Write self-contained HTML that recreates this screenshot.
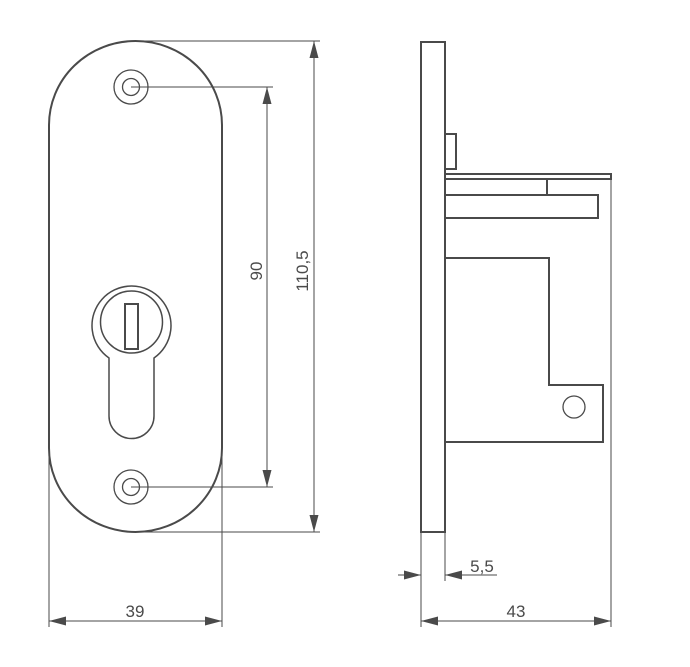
<!DOCTYPE html>
<html><head><meta charset="utf-8"><style>html,body{margin:0;padding:0;background:#fff}svg{display:block}</style></head>
<body>
<svg width="690" height="667" viewBox="0 0 690 667" xmlns="http://www.w3.org/2000/svg">
<defs>
<marker id="a" viewBox="0 0 17 9" refX="17" refY="4.5" markerWidth="17" markerHeight="9" orient="auto-start-reverse" markerUnits="userSpaceOnUse"><path d="M0,0 L17,4.5 L0,9 Z" fill="#4a4a4a"/></marker>
</defs>
<g fill="none" stroke="#4a4a4a" stroke-width="2">
<path d="M49,125 A86.5,84 0 0 1 222,125 L222,448 A86.5,84 0 0 1 49,448 Z"/>
<circle cx="131" cy="87" r="17" stroke-width="1.3"/><circle cx="131" cy="87" r="8.5" stroke-width="1.3"/>
<circle cx="131" cy="487" r="17" stroke-width="1.3"/><circle cx="131" cy="487" r="8.5" stroke-width="1.3"/>
<path d="M109,358 A39.5,39.5 0 1 1 154,358 L154,416 A22.5,22.5 0 0 1 109,416 Z" stroke-width="1.5"/>
<circle cx="131.5" cy="322" r="31" stroke-width="1.5"/>
<rect x="125" y="304" width="13" height="45"/>
<rect x="421" y="42" width="24" height="490"/>
<rect x="445" y="134" width="11" height="35"/>
<rect x="445" y="174" width="166" height="5"/>
<line x1="547" y1="179" x2="547" y2="195"/>
<rect x="445" y="195" width="153" height="23"/>
<path d="M445,258 L549,258 L549,385 L603,385 L603,442 L445,442"/>
<circle cx="574" cy="407" r="11" stroke-width="1.3"/>
</g>
<g fill="none" stroke="#4a4a4a" stroke-width="1">
<line x1="131" y1="87" x2="273" y2="87"/><line x1="131" y1="487" x2="273" y2="487"/>
<line x1="267" y1="87" x2="267" y2="487" marker-start="url(#a)" marker-end="url(#a)"/>
<line x1="135" y1="41" x2="320" y2="41"/><line x1="135" y1="532" x2="320" y2="532"/>
<line x1="314" y1="41" x2="314" y2="532" marker-start="url(#a)" marker-end="url(#a)"/>
<line x1="49" y1="448" x2="49" y2="627"/><line x1="222" y1="448" x2="222" y2="627"/>
<line x1="49" y1="621" x2="222" y2="621" marker-start="url(#a)" marker-end="url(#a)"/>
<line x1="421" y1="532" x2="421" y2="627"/><line x1="445" y1="532" x2="445" y2="581"/>
<line x1="611" y1="180" x2="611" y2="627"/>
<line x1="421" y1="621" x2="611" y2="621" marker-start="url(#a)" marker-end="url(#a)"/>
<line x1="398" y1="575" x2="421" y2="575" marker-end="url(#a)"/>
<line x1="497" y1="575" x2="445" y2="575" marker-end="url(#a)"/>
</g>
<g font-family="Liberation Sans, sans-serif" font-size="17" fill="#4a4a4a" text-anchor="middle">
<text x="135" y="617">39</text>
<text x="516" y="617">43</text>
<text x="482" y="572">5,5</text>
<text transform="translate(262,271) rotate(-90)">90</text>
<text transform="translate(308,271) rotate(-90)">110,5</text>
</g>
</svg>
</body></html>
